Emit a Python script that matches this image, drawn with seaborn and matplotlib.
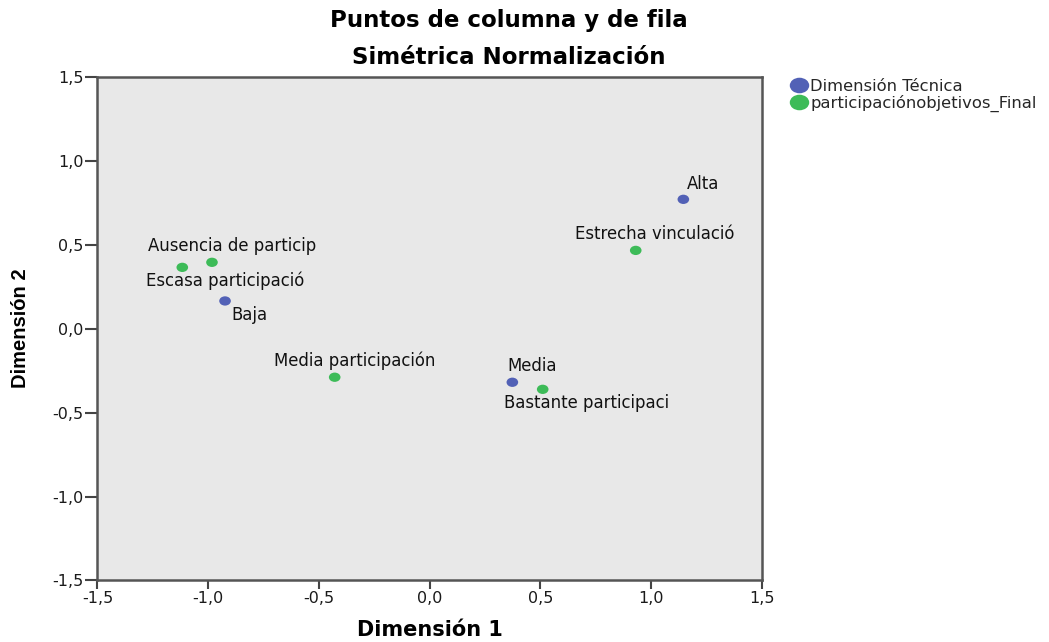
import matplotlib
matplotlib.use("Agg")
import matplotlib.pyplot as plt
import seaborn as sns
import pandas as pd
from matplotlib.path import Path
from matplotlib.transforms import Affine2D
from matplotlib.ticker import FuncFormatter, MultipleLocator

# Row points (Dimensión Técnica)
row_labels = ["Alta", "Baja", "Media"]
row_dim1 = [1.145, -0.924, 0.373]
row_dim2 = [0.769, 0.164, -0.320]

# Column points (participaciónobjetivos_Final)
col_labels = ["Estrecha vinculació", "Ausencia de particip", "Escasa participació",
              "Media participación", "Bastante participaci"]
col_dim1 = [0.930, -0.983, -1.117, -0.429, 0.510]
col_dim2 = [0.465, 0.394, 0.364, -0.290, -0.362]

series_names = ["Dimensión Técnica", "participaciónobjetivos_Final"]
colors = ["#5261B6", "#3DBB58"]

# label offsets in pixels (dx, dy) for each point, same order as labels
row_offsets = [(20, 15), (24, -14), (20, 16)]
col_offsets = [(19, 16), (20, 16), (43, -13), (20, 16), (44, -14)]

df = pd.DataFrame({
    "Dimensión 1": row_dim1 + col_dim1,
    "Dimensión 2": row_dim2 + col_dim2,
    "grupo": [series_names[0]] * len(row_labels) + [series_names[1]] * len(col_labels),
    "etiqueta": row_labels + col_labels,
})

sns.set_style("white")
plt.rcParams["font.family"] = ["DejaVu Sans"]

# slightly wide elliptical dot
dot = Path.unit_circle().transformed(Affine2D().scale(1.25, 1.0))

fig = plt.figure(figsize=(10.49, 6.42), dpi=100)
ax = fig.add_axes([0.0929, 0.0958, 0.6335, 0.785])
ax.set_facecolor("#E8E8E8")

sns.scatterplot(data=df, x="Dimensión 1", y="Dimensión 2", hue="grupo",
                palette=dict(zip(series_names, colors)), s=70, marker=dot,
                edgecolor="none", ax=ax, legend=False, zorder=3)

offsets = row_offsets + col_offsets
for (xv, yv, lab), (dx, dy) in zip(df[["Dimensión 1", "Dimensión 2", "etiqueta"]].values, offsets):
    ax.annotate(lab, (xv, yv), xytext=(dx, dy), textcoords="offset pixels",
                ha="center", va="center", fontsize=11.9, color="#111111")

ax.set_xlim(-1.5, 1.5)
ax.set_ylim(-1.5, 1.5)
ax.xaxis.set_major_locator(MultipleLocator(0.5))
ax.yaxis.set_major_locator(MultipleLocator(0.5))
fmt = FuncFormatter(lambda v, p: f"{v:.1f}".replace(".", ",").replace("-0,0", "0,0"))
ax.xaxis.set_major_formatter(fmt)
ax.yaxis.set_major_formatter(fmt)
ax.tick_params(axis="both", direction="out", width=1.5, color="#444444",
               labelsize=11.5, labelcolor="#1A1A1A", bottom=True, left=True)
ax.tick_params(axis="x", length=6.5, pad=1)
ax.tick_params(axis="y", length=9, pad=1)
for side in ["left", "bottom", "right", "top"]:
    ax.spines[side].set_color("#555555")
    ax.spines[side].set_linewidth(1.8)

ax.set_xlabel("Dimensión 1", fontsize=15, fontweight="bold", labelpad=10,
              color="#000000")
ax.set_ylabel("Dimensión 2", fontsize=14.5, fontweight="bold", labelpad=16,
              color="#000000", family=["Liberation Sans", "DejaVu Sans"])

fig.text(0.485, 0.968, "Puntos de columna y de fila", ha="center", va="center",
         fontsize=16.5, fontweight="bold", color="#000000")
fig.text(0.485, 0.911, "Simétrica Normalización", ha="center", va="center",
         fontsize=16.5, fontweight="bold", color="#000000")

handles = [plt.Line2D([], [], marker=dot, linestyle="none", markersize=14,
                      markerfacecolor=c, markeredgecolor="none") for c in colors]
fig.legend(handles, series_names, loc="upper left", bbox_to_anchor=(0.746, 0.887),
           frameon=False, fontsize=11.8, handletextpad=0.1, labelspacing=0.05,
           borderaxespad=0, handlelength=1.2)

fig.savefig("out.png", dpi=100)
